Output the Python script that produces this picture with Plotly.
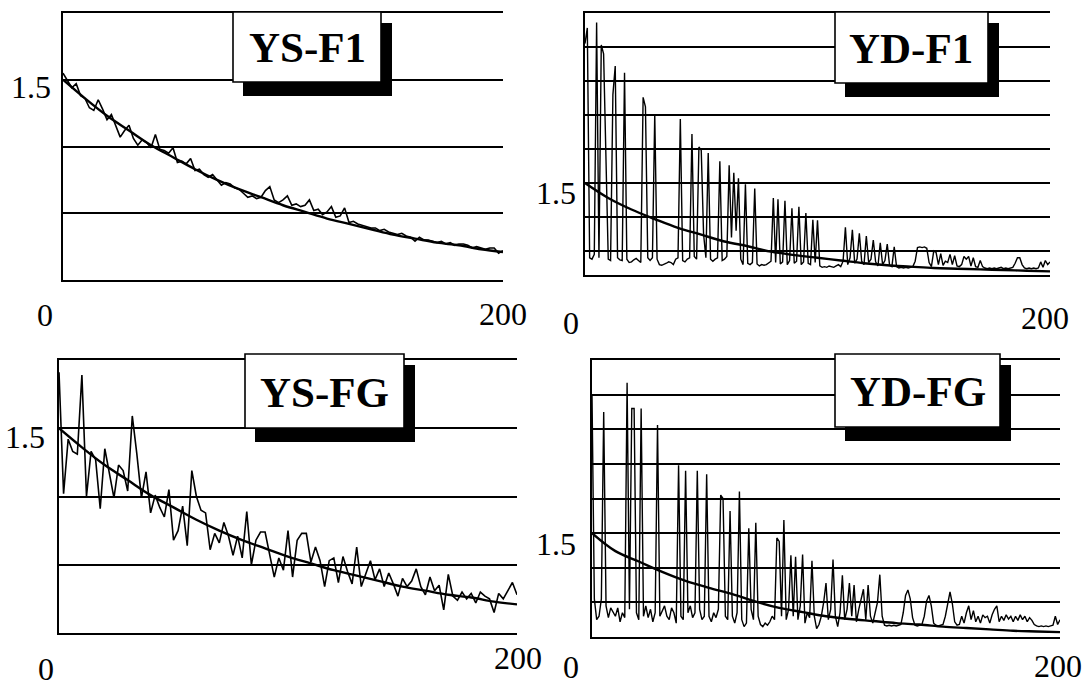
import plotly.graph_objects as go

W, H = 1087, 687

# ---------------- data ----------------
titles = ["YS-F1", "YD-F1", "YS-FG", "YD-FG"]

x_ys = list(range(0, 201, 2))
x_yd = list(range(0, 201))
x_fit = list(range(0, 201, 10))

ys_f1 = [1.55, 1.49, 1.44, 1.47, 1.38, 1.36, 1.29, 1.27, 1.35, 1.28,
         1.20, 1.24, 1.15, 1.07, 1.12, 1.16, 1.06, 1.01, 1.05, 1.03,
         0.99, 1.09, 0.98, 0.97, 0.95, 0.99, 0.88, 0.89, 0.87, 0.91,
         0.82, 0.83, 0.79, 0.77, 0.79, 0.75, 0.71, 0.73, 0.72, 0.69,
         0.68, 0.65, 0.62, 0.63, 0.61, 0.62, 0.67, 0.70, 0.60, 0.58,
         0.60, 0.63, 0.56, 0.57, 0.55, 0.56, 0.60, 0.52, 0.53, 0.49,
         0.51, 0.55, 0.47, 0.48, 0.54, 0.43, 0.44, 0.42, 0.41, 0.40,
         0.39, 0.39, 0.37, 0.38, 0.36, 0.35, 0.34, 0.35, 0.33, 0.32,
         0.29, 0.32, 0.30, 0.30, 0.29, 0.28, 0.29, 0.27, 0.28, 0.26,
         0.27, 0.27, 0.26, 0.24, 0.25, 0.24, 0.23, 0.24, 0.24, 0.20,
         0.22]

ys_fg = [1.91, 1.02, 1.42, 1.33, 1.31, 1.89, 1.00, 1.33, 1.27, 0.91,
         1.35, 1.17, 0.99, 1.23, 1.19, 1.04, 1.59, 1.31, 0.99, 1.18,
         0.88, 1.01, 0.92, 0.85, 1.05, 0.68, 0.75, 0.93, 0.64, 1.19,
         1.00, 0.90, 0.88, 0.61, 0.73, 0.66, 0.81, 0.71, 0.57, 0.71,
         0.55, 0.89, 0.50, 0.68, 0.74, 0.74, 0.57, 0.41, 0.55, 0.46,
         0.75, 0.41, 0.68, 0.73, 0.73, 0.52, 0.63, 0.53, 0.34, 0.53,
         0.55, 0.37, 0.56, 0.45, 0.36, 0.63, 0.34, 0.44, 0.53, 0.39,
         0.47, 0.34, 0.44, 0.36, 0.27, 0.40, 0.34, 0.38, 0.47, 0.34,
         0.28, 0.41, 0.31, 0.35, 0.17, 0.43, 0.27, 0.24, 0.30, 0.25,
         0.29, 0.22, 0.30, 0.27, 0.25, 0.15, 0.29, 0.25, 0.31, 0.37,
         0.28]

yd_f1 = [3.55, 3.78, 0.40, 0.38, 0.45, 3.86, 0.40, 3.53, 3.40, 1.90,
         0.38, 0.36, 2.80, 3.22, 0.40, 0.37, 0.36, 3.12, 0.38, 0.33,
         0.34, 0.37, 0.39, 0.36, 0.33, 2.76, 2.62, 0.40, 0.36, 0.40,
         2.51, 0.38, 0.30, 0.29, 0.30, 0.32, 0.34, 0.33, 0.30, 0.38,
         0.40, 2.44, 0.36, 0.34, 0.38, 0.40, 2.22, 0.42, 0.38, 2.03,
         1.98, 0.75, 0.40, 1.94, 0.38, 0.35, 0.38, 0.40, 1.82, 0.36,
         0.38, 0.42, 1.76, 0.70, 1.65, 0.80, 1.57, 0.38, 0.30, 1.48,
         0.32, 0.30, 0.33, 1.42, 0.31, 0.28, 0.30, 0.29, 0.30, 0.32,
         0.35, 1.28, 0.33, 1.26, 0.31, 0.34, 1.24, 0.30, 0.36, 1.13,
         0.32, 0.35, 1.15, 0.30, 0.34, 1.06, 0.32, 0.30, 0.96, 0.33,
         0.95, 0.28, 0.26, 0.27, 0.26, 0.28, 0.27, 0.26, 0.28, 0.30,
         0.27, 0.35, 0.85, 0.30, 0.40, 0.81, 0.32, 0.38, 0.76, 0.35,
         0.30, 0.72, 0.33, 0.38, 0.66, 0.34, 0.28, 0.62, 0.30, 0.36,
         0.60, 0.29, 0.27, 0.56, 0.27, 0.25, 0.26, 0.25, 0.26, 0.25,
         0.26, 0.27, 0.35, 0.55, 0.56, 0.55, 0.56, 0.54, 0.33, 0.27,
         0.50, 0.48, 0.30, 0.46, 0.29, 0.35, 0.33, 0.45, 0.30, 0.43,
         0.28, 0.27, 0.30, 0.42, 0.38, 0.42, 0.28, 0.40, 0.27, 0.26,
         0.36, 0.27, 0.25, 0.24, 0.25, 0.24, 0.25, 0.24, 0.25, 0.26,
         0.24, 0.25, 0.24, 0.25, 0.26, 0.32, 0.40, 0.40, 0.30, 0.25,
         0.24, 0.25, 0.24, 0.25, 0.24, 0.25, 0.34, 0.26, 0.36, 0.30,
         0.34]

yd_fg = [3.50, 0.55, 0.25, 0.30, 0.55, 3.25, 0.45, 0.28, 0.42, 0.35,
         0.30, 0.42, 0.22, 0.35, 0.28, 3.67, 0.40, 3.30, 3.30, 0.35,
         0.25, 3.30, 0.30, 0.45, 0.28, 0.40, 0.22, 0.35, 3.06, 0.30,
         0.38, 0.45, 0.30, 0.25, 0.42, 0.35, 0.20, 2.48, 0.30, 0.25,
         2.40, 0.35, 0.45, 0.28, 0.35, 2.40, 0.40, 0.25, 0.30, 2.35,
         0.30, 0.22, 0.35, 0.28, 0.40, 2.05, 2.00, 0.30, 0.25, 1.82,
         0.30, 0.20, 0.35, 2.10, 0.25, 0.15, 0.20, 1.57, 0.40, 0.25,
         1.65, 0.30, 0.18, 0.15, 0.20, 0.17, 0.22, 0.30, 0.25, 1.43,
         1.38, 0.30, 1.69, 0.25, 0.40, 1.18, 0.30, 1.16, 0.25, 0.45,
         1.19, 0.20, 0.35, 0.28, 1.10, 0.30, 0.12, 0.18, 0.30, 0.50,
         0.78, 0.25, 0.40, 1.12, 0.30, 0.15, 0.35, 0.89, 0.25, 0.40,
         0.78, 0.30, 0.75, 0.22, 0.40, 0.55, 0.69, 0.25, 0.75, 0.30,
         0.20, 0.35, 0.50, 0.90, 0.30, 0.17, 0.16, 0.17, 0.16, 0.17,
         0.16, 0.17, 0.18, 0.35, 0.60, 0.68, 0.55, 0.28, 0.17, 0.16,
         0.17, 0.18, 0.30, 0.52, 0.60, 0.45, 0.20, 0.17, 0.16, 0.17,
         0.18, 0.30, 0.50, 0.65, 0.48, 0.22, 0.17, 0.18, 0.30, 0.20,
         0.35, 0.45, 0.25, 0.38, 0.22, 0.30, 0.20, 0.32, 0.28, 0.30,
         0.20, 0.32, 0.40, 0.45, 0.22, 0.30, 0.24, 0.32, 0.26, 0.30,
         0.22, 0.30, 0.24, 0.32, 0.25, 0.30, 0.22, 0.28, 0.24, 0.18,
         0.16, 0.15, 0.16, 0.15, 0.16, 0.15, 0.16, 0.17, 0.30, 0.18,
         0.25]

fit_ys = [1.50, 1.36, 1.23, 1.12, 1.01, 0.92, 0.83, 0.75, 0.68, 0.62,
          0.56, 0.51, 0.46, 0.42, 0.38, 0.34, 0.31, 0.28, 0.26, 0.23, 0.21]
fit_yd_f1 = [1.50, 1.28, 1.11, 0.97, 0.84, 0.74, 0.64, 0.57, 0.49, 0.44,
             0.40, 0.36, 0.32, 0.29, 0.27, 0.25, 0.24, 0.23, 0.22, 0.21, 0.20]
fit_yd_fg = [1.50, 1.24, 1.09, 0.94, 0.81, 0.71, 0.62, 0.51, 0.42, 0.36,
             0.30, 0.26, 0.23, 0.20, 0.18, 0.15, 0.13, 0.11, 0.09, 0.08, 0.07]

y_label = "1.5"
x_labels = ["0", "200"]

# ---------------- layout helpers (pixel geometry) ----------------
def fx(px):
    return px / W

def fy(py):
    return 1 - py / H

panels = [
    dict(title=titles[0], x=x_ys, y=ys_f1, fit=fit_ys, box=(63, 503, 13, 280),
         yr=[0, 2], grid=[0.5, 1.0, 1.5], lw=1.6,
         tbox=(233, 381, 12, 82),
         lab15=(31, 87), lab0=(45, 315), lab200=(503, 314)),
    dict(title=titles[1], x=x_yd, y=yd_f1, fit=fit_yd_f1, box=(585, 1050, 13, 275),
         yr=[0.147, 4.0], grid=[0.5, 1, 1.5, 2, 2.5, 3, 3.5], lw=1.4,
         tbox=(835, 988, 12, 83),
         lab15=(556, 193), lab0=(571, 323), lab200=(1045, 318)),
    dict(title=titles[2], x=x_ys, y=ys_fg, fit=fit_ys, box=(59, 517, 360, 633),
         yr=[0, 2], grid=[0.5, 1.0, 1.5], lw=1.6,
         tbox=(245, 404, 354, 428),
         lab15=(25, 437), lab0=(46, 669), lab200=(518, 658)),
    dict(title=titles[3], x=x_yd, y=yd_fg, fit=fit_yd_fg, box=(592, 1060, 360, 637),
         yr=[0, 4], grid=[0.5, 1, 1.5, 2, 2.5, 3, 3.5], lw=1.4,
         tbox=(835, 1000, 354, 427),
         lab15=(556, 544), lab0=(571, 667), lab200=(1058, 666)),
]

fig = go.Figure()
layout = dict(width=W, height=H, margin=dict(l=0, r=0, t=0, b=0),
              paper_bgcolor="white", plot_bgcolor="white", showlegend=False)
shapes = []
annotations = []
serif = "Liberation Serif, Times New Roman, serif"

for i, p in enumerate(panels, start=1):
    xa = "x" if i == 1 else f"x{i}"
    ya = "y" if i == 1 else f"y{i}"
    l, r, t, b = p["box"]
    layout[f"xaxis{'' if i == 1 else i}"] = dict(
        domain=[fx(l), fx(r)], range=[0, 200], anchor=ya,
        showgrid=False, zeroline=False, showticklabels=False, ticks="",
        showline=True, mirror=True, linecolor="black", linewidth=1.8)
    layout[f"yaxis{'' if i == 1 else i}"] = dict(
        domain=[fy(b), fy(t)], range=p["yr"], anchor=xa,
        tickmode="array", tickvals=p["grid"], showticklabels=False, ticks="",
        showgrid=True, gridcolor="black", gridwidth=1.6, zeroline=False,
        showline=True, linecolor="black", linewidth=1.8)
    fig.add_trace(go.Scatter(x=p["x"], y=p["y"], mode="lines",
                             line=dict(color="black", width=p["lw"]),
                             xaxis=xa, yaxis=ya))
    fig.add_trace(go.Scatter(x=x_fit, y=p["fit"], mode="lines",
                             line=dict(color="black", width=2.4, shape="spline"),
                             xaxis=xa, yaxis=ya))
    bl, br, bt, bb = p["tbox"]
    shapes.append(dict(type="rect", xref="paper", yref="paper", layer="above",
                       x0=fx(bl + 10), x1=fx(br + 11), y0=fy(bb + 14), y1=fy(bt + 11),
                       fillcolor="black", line=dict(width=0)))
    shapes.append(dict(type="rect", xref="paper", yref="paper", layer="above",
                       x0=fx(bl), x1=fx(br), y0=fy(bb), y1=fy(bt),
                       fillcolor="white", line=dict(color="black", width=1.6)))
    annotations.append(dict(text=f"<b>{p['title']}</b>", xref="paper", yref="paper",
                            x=fx((bl + br) / 2), y=fy((bt + bb) / 2 + 1),
                            xanchor="center", yanchor="middle", showarrow=False,
                            font=dict(family=serif, size=43, color="black")))
    for txt, (px, py) in [(y_label, p["lab15"]), (x_labels[0], p["lab0"]),
                          (x_labels[1], p["lab200"])]:
        annotations.append(dict(text=txt, xref="paper", yref="paper",
                                x=fx(px), y=fy(py), xanchor="center", yanchor="middle",
                                showarrow=False,
                                font=dict(family=serif, size=32, color="black")))

layout["shapes"] = shapes
layout["annotations"] = annotations
fig.update_layout(**layout)
fig.write_html("out.html", config={"displayModeBar": False},
               post_script="document.body.style.margin='0';document.body.style.overflow='hidden';")
